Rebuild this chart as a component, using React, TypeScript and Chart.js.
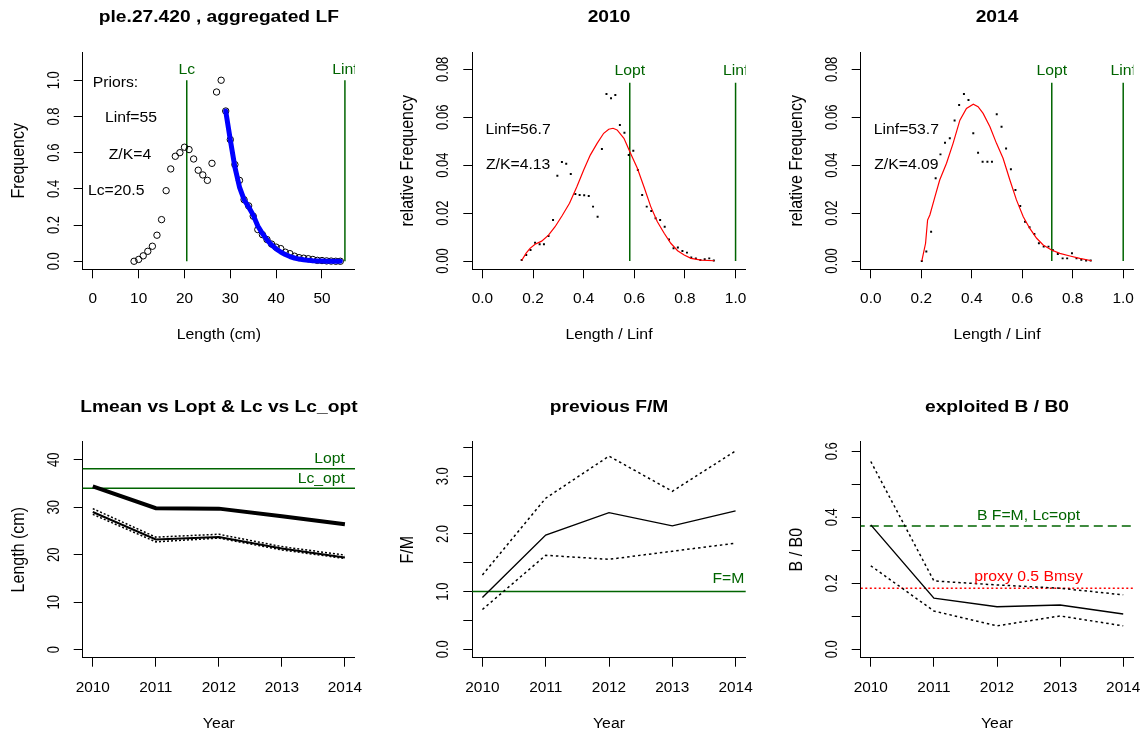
import React, { useEffect, useRef } from "react";
import { Chart, registerables } from "chart.js";

Chart.register(...registerables);

const W = 1142;
const H = 733;
const FONT = '"Liberation Sans", Arial, Helvetica, sans-serif';
const GREEN = "#006400";
const RED = "#ff0000";
const BLUE = "#0000ff";
const INK = "#000000";

// ---------------- Panel 1: aggregated LF ----------------
const LF_LENGTHS = [9, 10, 11, 12, 13, 14, 15, 16, 17, 18, 19, 20, 21, 22, 23, 24, 25, 26, 27, 28, 29, 30, 31, 32, 33, 34, 35, 36, 37, 38, 39, 40, 41, 42, 43, 44, 45, 46, 47, 48, 49, 50, 51, 52, 53, 54];
const LF_FREQ = [0.0, 0.01, 0.03, 0.055, 0.083, 0.144, 0.23, 0.39, 0.51, 0.58, 0.6, 0.63, 0.617, 0.565, 0.503, 0.477, 0.447, 0.541, 0.935, 1.0, 0.83, 0.672, 0.534, 0.447, 0.34, 0.306, 0.249, 0.175, 0.147, 0.12, 0.095, 0.078, 0.07, 0.05, 0.042, 0.028, 0.02, 0.017, 0.014, 0.01, 0.005, 0.004, 0.002, 0.001, 0.0, 0.0];
const FIT_LENGTHS = [29, 30, 31, 32, 33, 34, 35, 36, 37, 38, 39, 40, 41, 42, 43, 44, 45, 46, 47, 48, 49, 50, 51, 52, 53, 54];
const FIT_FREQ = [0.83, 0.67, 0.52, 0.41, 0.34, 0.3, 0.255, 0.195, 0.153, 0.118, 0.09, 0.068, 0.051, 0.037, 0.026, 0.018, 0.012, 0.008, 0.005, 0.003, 0.002, 0.001, 0.0005, 0.0002, 0.0001, 0.0];
const PRIOR_LC = 20.5;
const PRIOR_LINF = 55;
const P1_VLINE_TOP = 1.0;
const P1_X_TICKS = [0, 10, 20, 30, 40, 50];
const P1_X_LABELS = ["0", "10", "20", "30", "40", "50"];
const P1_Y_TICKS = [0, 0.2, 0.4, 0.6, 0.8, 1.0];
const P1_Y_LABELS = ["0.0", "0.2", "0.4", "0.6", "0.8", "1.0"];

// ---------------- Panel 2: 2010 ----------------
const REL_X_2010 = [0.155, 0.173, 0.19, 0.208, 0.226, 0.243, 0.261, 0.279, 0.296, 0.314, 0.331, 0.349, 0.367, 0.384, 0.402, 0.42, 0.437, 0.455, 0.472, 0.49, 0.508, 0.525, 0.543, 0.561, 0.578, 0.596, 0.614, 0.631, 0.649, 0.667, 0.684, 0.702, 0.72, 0.737, 0.755, 0.772, 0.79, 0.808, 0.825, 0.843, 0.861, 0.878, 0.896, 0.914];
const REL_F_2010 = [0.0004, 0.0025, 0.0046, 0.0076, 0.007, 0.007, 0.0104, 0.0171, 0.0356, 0.0413, 0.0406, 0.0363, 0.028, 0.0275, 0.0274, 0.0271, 0.0227, 0.0185, 0.0467, 0.0697, 0.0679, 0.0693, 0.0568, 0.0535, 0.0442, 0.046, 0.038, 0.0275, 0.0227, 0.0209, 0.0178, 0.0171, 0.0143, 0.009, 0.0053, 0.0056, 0.0042, 0.0035, 0.0015, 0.0011, 0.0004, 0.0007, 0.0011, 0.0002];
const FIT_X_2010 = [0.155, 0.172, 0.188, 0.208, 0.234, 0.261, 0.287, 0.314, 0.344, 0.373, 0.4, 0.426, 0.453, 0.479, 0.499, 0.516, 0.532, 0.559, 0.585, 0.612, 0.638, 0.665, 0.691, 0.718, 0.744, 0.771, 0.797, 0.824, 0.864, 0.916];
const FIT_F_2010 = [0.0002, 0.0032, 0.0053, 0.007, 0.0083, 0.0108, 0.0143, 0.0188, 0.0241, 0.031, 0.038, 0.0442, 0.0491, 0.0533, 0.055, 0.0554, 0.0547, 0.0512, 0.045, 0.0387, 0.031, 0.0227, 0.0164, 0.0116, 0.0074, 0.0043, 0.0025, 0.0011, 0.0004, 0.0001];
const LOPT_REL_2010 = 0.582;

// ---------------- Panel 3: 2014 ----------------
const REL_X_2014 = [0.202, 0.22, 0.239, 0.257, 0.276, 0.294, 0.313, 0.332, 0.35, 0.369, 0.387, 0.406, 0.425, 0.443, 0.462, 0.48, 0.499, 0.518, 0.536, 0.555, 0.573, 0.592, 0.611, 0.629, 0.648, 0.666, 0.685, 0.704, 0.722, 0.741, 0.76, 0.778, 0.797, 0.815, 0.834, 0.853, 0.871];
const REL_F_2014 = [0.0, 0.004, 0.0122, 0.0345, 0.0445, 0.0494, 0.0512, 0.0586, 0.0651, 0.0697, 0.0672, 0.0533, 0.0452, 0.0414, 0.0414, 0.0414, 0.0612, 0.056, 0.047, 0.0383, 0.0296, 0.023, 0.0164, 0.0141, 0.0113, 0.0074, 0.006, 0.006, 0.0045, 0.0029, 0.0011, 0.0011, 0.0032, 0.0011, 0.0005, 0.0002, 0.0002];
const FIT_X_2014 = [0.202, 0.217, 0.225, 0.234, 0.254, 0.273, 0.3, 0.326, 0.353, 0.379, 0.406, 0.425, 0.445, 0.472, 0.498, 0.524, 0.551, 0.577, 0.604, 0.63, 0.657, 0.683, 0.716, 0.749, 0.789, 0.828, 0.875];
const FIT_F_2014 = [0.0, 0.0074, 0.0171, 0.0192, 0.0268, 0.0338, 0.0408, 0.0491, 0.0588, 0.0637, 0.0654, 0.0644, 0.0616, 0.056, 0.0491, 0.0429, 0.0338, 0.0255, 0.0185, 0.0136, 0.0095, 0.0067, 0.0046, 0.0032, 0.0021, 0.0011, 0.0001];
const LOPT_REL_2014 = 0.717;

const REL_VLINE_TOP = 0.0744;
const REL_X_TICKS = [0, 0.2, 0.4, 0.6, 0.8, 1.0];
const REL_X_LABELS = ["0.0", "0.2", "0.4", "0.6", "0.8", "1.0"];
const REL_Y_TICKS = [0, 0.02, 0.04, 0.06, 0.08];
const REL_Y_LABELS = ["0.00", "0.02", "0.04", "0.06", "0.08"];

// ---------------- Bottom row ----------------
const YEARS = [2010, 2011, 2012, 2013, 2014];
const YEAR_LABELS = ["2010", "2011", "2012", "2013", "2014"];

const LMEAN = [34.4, 29.8, 29.7, 28.1, 26.4];
const LC_EST = [29.0, 23.2, 23.7, 21.3, 19.4];
const LC_UPPER = [29.7, 23.7, 24.3, 21.7, 19.9];
const LC_LOWER = [28.5, 22.7, 23.5, 21.0, 19.2];
const LOPT_CM = 38.1;
const LC_OPT_CM = 34.0;
const P4_Y_TICKS = [0, 10, 20, 30, 40];
const P4_Y_LABELS = ["0", "10", "20", "30", "40"];

const FM = [0.9, 1.98, 2.37, 2.14, 2.4];
const FM_UPPER = [1.29, 2.62, 3.35, 2.74, 3.44];
const FM_LOWER = [0.69, 1.63, 1.56, 1.7, 1.84];
const F_EQ_M = 1.0;
const P5_Y_TICKS = [0, 0.5, 1.0, 1.5, 2.0, 2.5, 3.0, 3.5];
const P5_Y_LABELS = ["0.0", "", "1.0", "", "2.0", "", "3.0", ""];

const BB0 = [0.377, 0.155, 0.129, 0.134, 0.107];
const BB0_UPPER = [0.569, 0.207, 0.195, 0.185, 0.165];
const BB0_LOWER = [0.253, 0.116, 0.071, 0.101, 0.071];
const B_TARGET = 0.3736;
const B_PROXY = 0.185;
const P6_Y_TICKS = [0, 0.1, 0.2, 0.3, 0.4, 0.5, 0.6];
const P6_Y_LABELS = ["0.0", "", "0.2", "", "0.4", "", "0.6"];

// ---------------- layout ----------------
const COLS = [
  { left: 82.7, right: 355 },
  { left: 472.3, right: 745.7 },
  { left: 860.7, right: 1133.3 },
];
const ROWS = [
  { top: 52.3, bottom: 269.3 },
  { top: 441.7, bottom: 657.7 },
];

type Note = { text: string; x: number; y: number; dy?: number; color?: string; align?: CanvasTextAlign };

type PanelSpec = {
  col: number;
  row: number;
  xMin: number; xMax: number; yMin: number; yMax: number;
  xTicks: number[]; xLabels: string[];
  yTicks: number[]; yLabels: string[];
  title: string; xTitle: string; yTitle: string;
  datasets: any[];
  notes: Note[];
};

function pts(xs: number[], ys: number[]) {
  return xs.map((x, i) => ({ x, y: ys[i] }));
}

function lineDs(data: any[], color: string, width: number, dash: number[] = [], extra: any = {}) {
  return {
    data,
    showLine: true,
    borderColor: color,
    backgroundColor: color,
    borderWidth: width,
    borderDash: dash,
    pointRadius: 0,
    pointHoverRadius: 0,
    fill: false,
    tension: 0,
    ...extra,
  };
}

function drawText(ctx: any, s: string, x: number, y: number, o: { size: number; bold?: boolean; color?: string; align?: CanvasTextAlign; rot?: boolean; sx?: number }) {
  ctx.save();
  ctx.translate(x, y);
  ctx.scale(o.sx ?? 1, 1);
  if (o.rot) ctx.rotate(-Math.PI / 2);
  ctx.font = `${o.bold ? "bold " : ""}${o.size}px ${FONT}`;
  ctx.fillStyle = o.color ?? INK;
  ctx.textAlign = o.align ?? "center";
  ctx.textBaseline = "middle";
  ctx.fillText(s, 0, 0);
  ctx.restore();
}

function textPlugin(s: PanelSpec) {
  return {
    id: "rtext",
    afterDraw(chart: any) {
      const ctx = chart.ctx;
      const ca = chart.chartArea;
      const xs = chart.scales.x;
      const ys = chart.scales.y;
      const cx = (ca.left + ca.right) / 2;
      const cy = (ca.top + ca.bottom) / 2;
      drawText(ctx, s.title, cx, ca.top - 34.3, { size: 16, bold: true, sx: 1.2 });
      s.xTicks.forEach((v, i) => {
        if (s.xLabels[i]) drawText(ctx, s.xLabels[i], xs.getPixelForValue(v), ca.bottom + 30, { size: 14, sx: 1.1 });
      });
      s.yTicks.forEach((v, i) => {
        if (s.yLabels[i]) drawText(ctx, s.yLabels[i], ca.left - 28.5, ys.getPixelForValue(v), { size: 13, sx: 1.25, rot: true });
      });
      drawText(ctx, s.xTitle, cx, ca.bottom + 66, { size: 14, sx: 1.13 });
      drawText(ctx, s.yTitle, ca.left - 64, cy, { size: 16, sx: 1.1, rot: true });
      ctx.save();
      ctx.beginPath();
      ctx.rect(ca.left, ca.top, ca.right - ca.left, ca.bottom - ca.top);
      ctx.clip();
      s.notes.forEach((n) => {
        drawText(ctx, n.text, xs.getPixelForValue(n.x), ys.getPixelForValue(n.y) + (n.dy ?? 0), {
          size: 15,
          sx: 1.05,
          color: n.color ?? INK,
          align: n.align ?? "center",
        });
      });
      ctx.restore();
    },
  };
}

function buildConfig(s: PanelSpec): any {
  const c = COLS[s.col];
  const r = ROWS[s.row];
  const axisCommon = (ticks: number[]) => ({
    type: "linear",
    bounds: "data",
    ticks: { display: false },
    grid: { display: true, drawOnChartArea: false, drawTicks: true, tickLength: 9, color: INK, lineWidth: 1 },
    border: { display: true, color: INK, width: 1 },
    afterBuildTicks: (axis: any) => {
      axis.ticks = ticks.map((v) => ({ value: v }));
    },
  });
  return {
    type: "scatter",
    data: { datasets: [...s.datasets].reverse() },
    options: {
      responsive: false,
      maintainAspectRatio: false,
      animation: false,
      devicePixelRatio: 1,
      events: [],
      layout: {
        autoPadding: false,
        padding: { left: c.left - 10, right: W - c.right, top: r.top, bottom: H - r.bottom - 10 },
      },
      plugins: { legend: { display: false }, title: { display: false }, tooltip: { enabled: false } },
      scales: {
        x: {
          ...axisCommon(s.xTicks),
          position: "bottom",
          min: s.xMin,
          max: s.xMax,
          afterFit: (a: any) => {
            a.height = 10;
          },
        },
        y: {
          ...axisCommon(s.yTicks),
          position: "left",
          min: s.yMin,
          max: s.yMax,
          afterFit: (a: any) => {
            a.width = 10;
          },
        },
      },
    },
    plugins: [textPlugin(s)],
  };
}

const DOTS = (xs: number[], ys: number[]) => ({
  data: pts(xs, ys),
  showLine: false,
  pointStyle: "rect",
  pointRadius: 1.4,
  pointBorderWidth: 0,
  pointBackgroundColor: INK,
  pointBorderColor: INK,
  borderColor: INK,
  backgroundColor: INK,
});

const DOT = [2.5, 3];

const PANELS: PanelSpec[] = [
  {
    col: 0, row: 0,
    xMin: -2.2, xMax: 57.2, yMin: -0.0444, yMax: 1.1544,
    xTicks: P1_X_TICKS, xLabels: P1_X_LABELS, yTicks: P1_Y_TICKS, yLabels: P1_Y_LABELS,
    title: "ple.27.420 , aggregated LF", xTitle: "Length (cm)", yTitle: "Frequency",
    datasets: [
      lineDs(pts([PRIOR_LC, PRIOR_LC], [0, P1_VLINE_TOP]), GREEN, 1.5),
      lineDs(pts([PRIOR_LINF, PRIOR_LINF], [0, P1_VLINE_TOP]), GREEN, 1.5),
      {
        data: pts(LF_LENGTHS, LF_FREQ),
        showLine: false,
        pointStyle: "circle",
        pointRadius: 3.2,
        pointBorderWidth: 1,
        pointBorderColor: INK,
        pointBackgroundColor: "rgba(0,0,0,0)",
        borderColor: INK,
        backgroundColor: "rgba(0,0,0,0)",
      },
      lineDs(pts(FIT_LENGTHS, FIT_FREQ), BLUE, 5, [], { borderCapStyle: "round", borderJoinStyle: "round" }),
    ],
    notes: [
      { text: "Priors:", x: 4.95, y: 0.985 },
      { text: "Linf=55", x: 8.33, y: 0.792 },
      { text: "Z/K=4", x: 8.1, y: 0.588 },
      { text: "Lc=20.5", x: 5.1, y: 0.388 },
      { text: "Lc", x: PRIOR_LC, y: P1_VLINE_TOP, dy: -10, color: GREEN },
      { text: "Linf", x: PRIOR_LINF, y: P1_VLINE_TOP, dy: -10, color: GREEN },
    ],
  },
  {
    col: 1, row: 0,
    xMin: -0.04, xMax: 1.04, yMin: -0.00346, yMax: 0.0871,
    xTicks: REL_X_TICKS, xLabels: REL_X_LABELS, yTicks: REL_Y_TICKS, yLabels: REL_Y_LABELS,
    title: "2010", xTitle: "Length / Linf", yTitle: "relative Frequency",
    datasets: [
      lineDs(pts([LOPT_REL_2010, LOPT_REL_2010], [0, REL_VLINE_TOP]), GREEN, 1.5),
      lineDs(pts([1, 1], [0, REL_VLINE_TOP]), GREEN, 1.5),
      DOTS(REL_X_2010, REL_F_2010),
      lineDs(pts(FIT_X_2010, FIT_F_2010), RED, 1.2),
    ],
    notes: [
      { text: "Linf=56.7", x: 0.141, y: 0.0547 },
      { text: "Z/K=4.13", x: 0.141, y: 0.0401 },
      { text: "Lopt", x: LOPT_REL_2010, y: REL_VLINE_TOP, dy: -11.5, color: GREEN },
      { text: "Linf", x: 1, y: REL_VLINE_TOP, dy: -11.5, color: GREEN },
    ],
  },
  {
    col: 2, row: 0,
    xMin: -0.04, xMax: 1.04, yMin: -0.00346, yMax: 0.0871,
    xTicks: REL_X_TICKS, xLabels: REL_X_LABELS, yTicks: REL_Y_TICKS, yLabels: REL_Y_LABELS,
    title: "2014", xTitle: "Length / Linf", yTitle: "relative Frequency",
    datasets: [
      lineDs(pts([LOPT_REL_2014, LOPT_REL_2014], [0, REL_VLINE_TOP]), GREEN, 1.5),
      lineDs(pts([1, 1], [0, REL_VLINE_TOP]), GREEN, 1.5),
      DOTS(REL_X_2014, REL_F_2014),
      lineDs(pts(FIT_X_2014, FIT_F_2014), RED, 1.2),
    ],
    notes: [
      { text: "Linf=53.7", x: 0.141, y: 0.0547 },
      { text: "Z/K=4.09", x: 0.141, y: 0.0401 },
      { text: "Lopt", x: LOPT_REL_2014, y: REL_VLINE_TOP, dy: -11.5, color: GREEN },
      { text: "Linf", x: 1, y: REL_VLINE_TOP, dy: -11.5, color: GREEN },
    ],
  },
  {
    col: 0, row: 1,
    xMin: 2009.84, xMax: 2014.16, yMin: -1.7, yMax: 43.8,
    xTicks: YEARS, xLabels: YEAR_LABELS, yTicks: P4_Y_TICKS, yLabels: P4_Y_LABELS,
    title: "Lmean vs Lopt & Lc vs Lc_opt", xTitle: "Year", yTitle: "Length (cm)",
    datasets: [
      lineDs(pts([2000, 2030], [LOPT_CM, LOPT_CM]), GREEN, 1.5),
      lineDs(pts([2000, 2030], [LC_OPT_CM, LC_OPT_CM]), GREEN, 1.5),
      lineDs(pts(YEARS, LC_UPPER), INK, 1.5, [2, 2]),
      lineDs(pts(YEARS, LC_LOWER), INK, 1.5, [2, 2]),
      lineDs(pts(YEARS, LC_EST), INK, 2),
      lineDs(pts(YEARS, LMEAN), INK, 4),
    ],
    notes: [
      { text: "Lopt", x: 2014, y: LOPT_CM, dy: -9.6, color: GREEN, align: "right" },
      { text: "Lc_opt", x: 2014, y: LC_OPT_CM, dy: -9.6, color: GREEN, align: "right" },
    ],
  },
  {
    col: 1, row: 1,
    xMin: 2009.84, xMax: 2014.16, yMin: -0.146, yMax: 3.6,
    xTicks: YEARS, xLabels: YEAR_LABELS, yTicks: P5_Y_TICKS, yLabels: P5_Y_LABELS,
    title: "previous F/M", xTitle: "Year", yTitle: "F/M",
    datasets: [
      lineDs(pts([2000, 2030], [F_EQ_M, F_EQ_M]), GREEN, 1.5),
      lineDs(pts(YEARS, FM_UPPER), INK, 1.5, DOT),
      lineDs(pts(YEARS, FM_LOWER), INK, 1.5, DOT),
      lineDs(pts(YEARS, FM), INK, 1.4),
    ],
    notes: [{ text: "F=M", x: 2014.14, y: F_EQ_M, dy: -12.7, color: GREEN, align: "right" }],
  },
  {
    col: 2, row: 1,
    xMin: 2009.84, xMax: 2014.16, yMin: -0.0255, yMax: 0.629,
    xTicks: YEARS, xLabels: YEAR_LABELS, yTicks: P6_Y_TICKS, yLabels: P6_Y_LABELS,
    title: "exploited B / B0", xTitle: "Year", yTitle: "B / B0",
    datasets: [
      lineDs(pts([2000, 2030], [B_TARGET, B_TARGET]), GREEN, 1.5, [9, 5]),
      lineDs(pts([2000, 2030], [B_PROXY, B_PROXY]), RED, 1.5, [2, 2.5]),
      lineDs(pts(YEARS, BB0_UPPER), INK, 1.5, DOT),
      lineDs(pts(YEARS, BB0_LOWER), INK, 1.5, DOT),
      lineDs(pts(YEARS, BB0), INK, 1.4),
    ],
    notes: [
      { text: "B F=M, Lc=opt", x: 2012.5, y: B_TARGET, dy: -10, color: GREEN },
      { text: "proxy 0.5 Bmsy", x: 2012.5, y: B_PROXY, dy: -11, color: RED },
    ],
  },
];

function PanelCanvas({ spec }: { spec: PanelSpec }) {
  const ref = useRef<HTMLCanvasElement>(null);
  useEffect(() => {
    if (!ref.current) return;
    const chart = new Chart(ref.current, buildConfig(spec));
    return () => chart.destroy();
  }, [spec]);
  return (
    <canvas
      ref={ref}
      width={W}
      height={H}
      style={{ position: "absolute", left: 0, top: 0, width: W, height: H }}
    />
  );
}

export default function App() {
  return (
    <div style={{ position: "fixed", left: 0, top: 0, width: W, height: H, background: "#fff", overflow: "hidden" }}>
      {PANELS.map((p, i) => (
        <PanelCanvas key={i} spec={p} />
      ))}
    </div>
  );
}
